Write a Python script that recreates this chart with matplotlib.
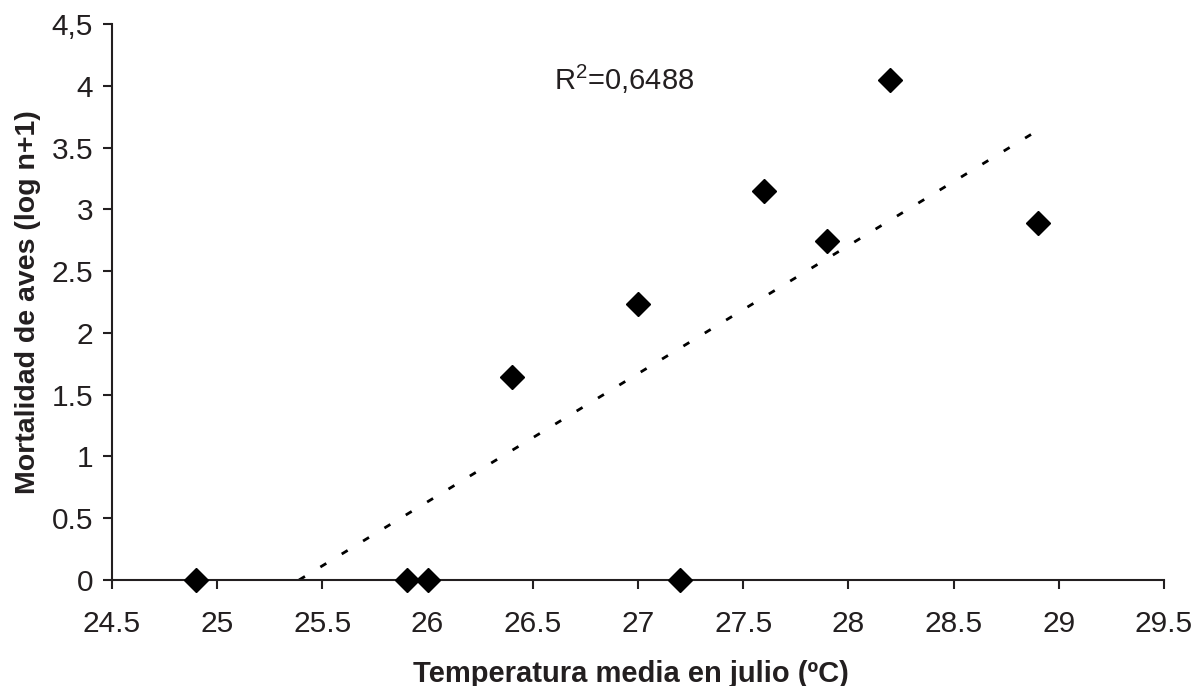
import matplotlib.pyplot as plt
import numpy as np
from matplotlib.ticker import FixedLocator, FixedFormatter

plt.rcParams['font.family'] = ['Liberation Sans', 'DejaVu Sans']
plt.rcParams['mathtext.fontset'] = 'custom'
plt.rcParams['mathtext.rm'] = 'Liberation Sans'

# data
temp = [24.9, 25.9, 26.0, 26.4, 27.0, 27.2, 27.6, 27.9, 28.2, 28.9]
mortality = [0, 0, 0, 1.64, 2.23, 0, 3.15, 2.74, 4.05, 2.89]

x_ticks = [24.5, 25, 25.5, 26, 26.5, 27, 27.5, 28, 28.5, 29, 29.5]
x_labels = ['24.5', '25', '25.5', '26', '26.5', '27', '27.5', '28', '28.5', '29', '29.5']
y_ticks = [0, 0.5, 1, 1.5, 2, 2.5, 3, 3.5, 4, 4.5]
y_labels = ['0', '0.5', '1', '1.5', '2', '2.5', '3', '3.5', '4', '4,5']

ink = '#231f20'

fig = plt.figure(figsize=(12.03, 6.86), dpi=100)
ax = fig.add_axes([0.0931, 0.1545, 0.8745, 0.8105])

# linear trend, clipped at y=0 like the original
slope, icpt = np.polyfit(temp, mortality, 1)
x0 = max(min(temp), -icpt / slope)
xt = np.array([x0, max(temp)])
ax.plot(xt, slope * xt + icpt, color='black', lw=2, dashes=(2.5, 6.5))

ax.plot(temp, mortality, 'D', color='black', markersize=12, clip_on=False, zorder=5)

ax.set_xlim(24.5, 29.5)
ax.set_ylim(0, 4.5)
ax.xaxis.set_major_locator(FixedLocator(x_ticks))
ax.xaxis.set_major_formatter(FixedFormatter(x_labels))
ax.yaxis.set_major_locator(FixedLocator(y_ticks))
ax.yaxis.set_major_formatter(FixedFormatter(y_labels))

for s in ['top', 'right']:
    ax.spines[s].set_visible(False)
for s in ['left', 'bottom']:
    ax.spines[s].set_linewidth(1.5)
    ax.spines[s].set_color(ink)
ax.tick_params(direction='out', length=6.5, width=1.5, labelsize=21.5,
               color=ink, labelcolor=ink, pad=7)
ax.tick_params(axis='x', pad=15)

ax.set_xlabel('Temperatura media en julio (ºC)', fontsize=21, fontweight='bold',
              color=ink, labelpad=16)
ax.xaxis.label.set_x(0.4935)
ax.set_ylabel('Mortalidad de aves (log n+1)', fontsize=20.5, fontweight='bold',
              color=ink, labelpad=8)

ax.text(26.6, 4.05, r'R$^2$=0,6488', fontsize=21, va='center', ha='left', color=ink)

fig.savefig('out.png', dpi=100)
